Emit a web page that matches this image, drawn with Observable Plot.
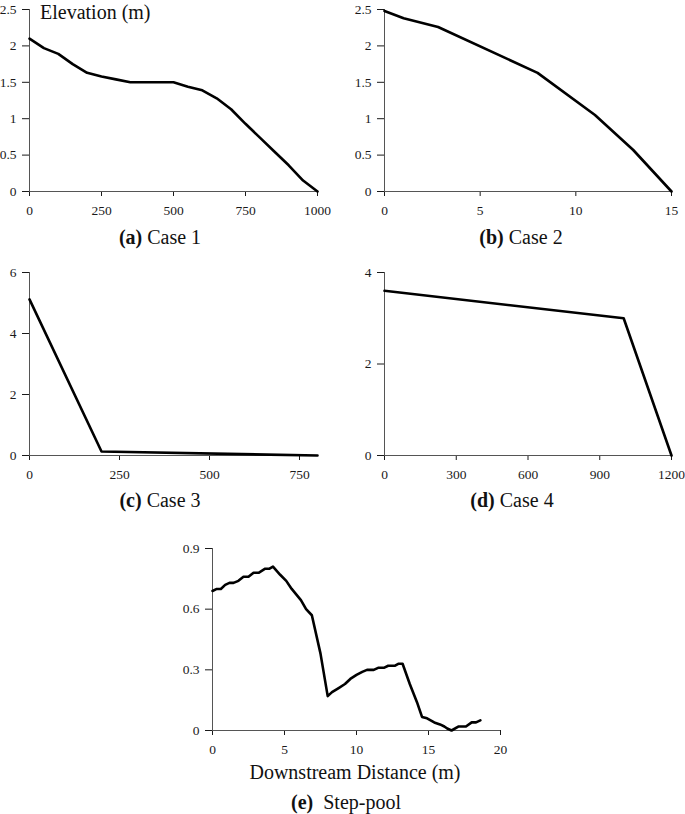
<!DOCTYPE html>
<html>
<head>
<meta charset="utf-8">
<script src="https://cdn.jsdelivr.net/npm/d3@7"></script>
<script src="https://cdn.jsdelivr.net/npm/@observablehq/plot@0.6"></script>
<style>
  body { margin: 0; background: #fff; }
  #wrap { position: relative; width: 685px; height: 814px; font-family: "Liberation Serif", "DejaVu Serif", serif; color: #111; }
  .panel { position: absolute; }
  .txt { position: absolute; transform: translate(-50%, -50%); white-space: pre; font-size: 20px; line-height: 1; }
  .txt b { font-weight: bold; }
</style>
</head>
<body>
<div id="wrap"></div>
<script>
// Case 1
const case1X = [0, 50, 100, 150, 200, 250, 300, 350, 400, 450, 500, 550, 600, 650, 700, 750, 800, 850, 900, 950, 1000];
const case1Y = [2.1, 1.97, 1.89, 1.75, 1.63, 1.58, 1.54, 1.5, 1.5, 1.5, 1.5, 1.44, 1.39, 1.28, 1.13, 0.93, 0.74, 0.55, 0.36, 0.15, 0];
// Case 2
const case2X = [0, 1, 2.8, 8, 11, 13, 15];
const case2Y = [2.48, 2.38, 2.26, 1.63, 1.05, 0.57, 0];
// Case 3
const case3X = [0, 200, 800];
const case3Y = [5.12, 0.13, 0];
// Case 4
const case4X = [0, 1000, 1200];
const case4Y = [3.6, 3.0, 0];
// Step-pool
const stepX = [0, 0.3, 0.58, 0.88, 1.18, 1.46, 1.8, 2.15, 2.5, 2.85, 3.2, 3.66, 3.96, 4.2, 4.7, 5.12, 5.5, 6.14, 6.5, 6.9, 7.5, 8.0, 8.3, 8.76, 9.2, 9.57, 10.0, 10.4, 10.73, 11.2, 11.5, 11.9, 12.2, 12.65, 12.9, 13.2, 13.7, 14.2, 14.55, 14.9, 15.4, 15.8, 16.1, 16.3, 16.6, 17.1, 17.6, 18.0, 18.3, 18.6];
const stepY = [0.69, 0.70, 0.70, 0.72, 0.73, 0.73, 0.74, 0.76, 0.76, 0.78, 0.78, 0.80, 0.80, 0.81, 0.77, 0.74, 0.70, 0.645, 0.60, 0.57, 0.38, 0.17, 0.19, 0.21, 0.23, 0.255, 0.275, 0.29, 0.30, 0.30, 0.31, 0.31, 0.32, 0.32, 0.33, 0.33, 0.23, 0.14, 0.067, 0.06, 0.04, 0.03, 0.02, 0.01, 0.0, 0.02, 0.02, 0.04, 0.04, 0.05];

// Tick labels
const ticks1X = [0, 250, 500, 750, 1000], ticks1Y = [0, 0.5, 1, 1.5, 2, 2.5];
const ticks2X = [0, 5, 10, 15], ticks2Y = [0, 0.5, 1, 1.5, 2, 2.5];
const ticks3X = [0, 250, 500, 750], ticks3Y = [0, 2, 4, 6];
const ticks4X = [0, 300, 600, 900, 1200], ticks4Y = [0, 2, 4];
const ticks5X = [0, 5, 10, 15, 20], ticks5Y = [0, 0.3, 0.6, 0.9];

const wrap = document.getElementById("wrap");

function panel(xs, ys, xDomain, yDomain, xt, yt, box) {
  const data = xs.map((x, i) => ({x, y: ys[i]}));
  const p = Plot.plot({
    width: box.w, height: box.h,
    marginLeft: box.ml, marginRight: box.mr, marginTop: box.mt, marginBottom: box.mb,
    style: {fontFamily: '"Liberation Serif", "DejaVu Serif", serif', fontSize: "13.5px", color: "#1a1a1a", background: "transparent"},
    x: {domain: xDomain, ticks: xt, tickSize: 5, tickPadding: 9, label: null, tickFormat: d => String(d)},
    y: {domain: yDomain, ticks: yt, tickSize: 7, tickPadding: 6, label: null, tickFormat: d => String(d)},
    marks: [
      Plot.ruleX([xDomain[0]], {stroke: "#555", strokeWidth: 1}),
      Plot.ruleY([yDomain[0]], {stroke: "#555", strokeWidth: 1}),
      Plot.line(data, {x: "x", y: "y", stroke: "#000", strokeWidth: 2.6, strokeLinejoin: "round"})
    ]
  });
  p.classList.add("panel");
  p.style.left = box.l + "px";
  p.style.top = box.t + "px";
  wrap.appendChild(p);
}

panel(case1X, case1Y, [0, 1000], [0, 2.5], ticks1X, ticks1Y, {l: 0, t: 0, w: 340, h: 225, ml: 29, mr: 23, mt: 9, mb: 34});
panel(case2X, case2Y, [0, 15], [0, 2.5], ticks2X, ticks2Y, {l: 340, t: 0, w: 345, h: 225, ml: 44, mr: 14, mt: 9, mb: 34});
panel(case3X, case3Y, [0, 800], [0, 6], ticks3X, ticks3Y, {l: 0, t: 260, w: 340, h: 230, ml: 29, mr: 23, mt: 12, mb: 35});
panel(case4X, case4Y, [0, 1200], [0, 4], ticks4X, ticks4Y, {l: 340, t: 260, w: 345, h: 230, ml: 44, mr: 14, mt: 12, mb: 35});
panel(stepX, stepY, [0, 20], [0, 0.9], ticks5X, ticks5Y, {l: 180, t: 536, w: 340, h: 230, ml: 32, mr: 20, mt: 12, mb: 36});

function label(html, x, y, left) {
  const d = document.createElement("div");
  d.className = "txt";
  d.innerHTML = html;
  d.style.left = x + "px";
  d.style.top = y + "px";
  if (left) d.style.transform = "translate(0, -50%)";
  wrap.appendChild(d);
}
label("Elevation (m)", 40, 12, true);
label("<b>(a)</b> Case 1", 160, 237);
label("<b>(b)</b> Case 2", 521, 237);
label("<b>(c)</b> Case 3", 160, 500);
label("<b>(d)</b> Case 4", 512, 500);
label("Downstream Distance (m)", 355, 772);
label("<b>(e)</b>  Step-pool", 346, 802);
</script>
</body>
</html>
